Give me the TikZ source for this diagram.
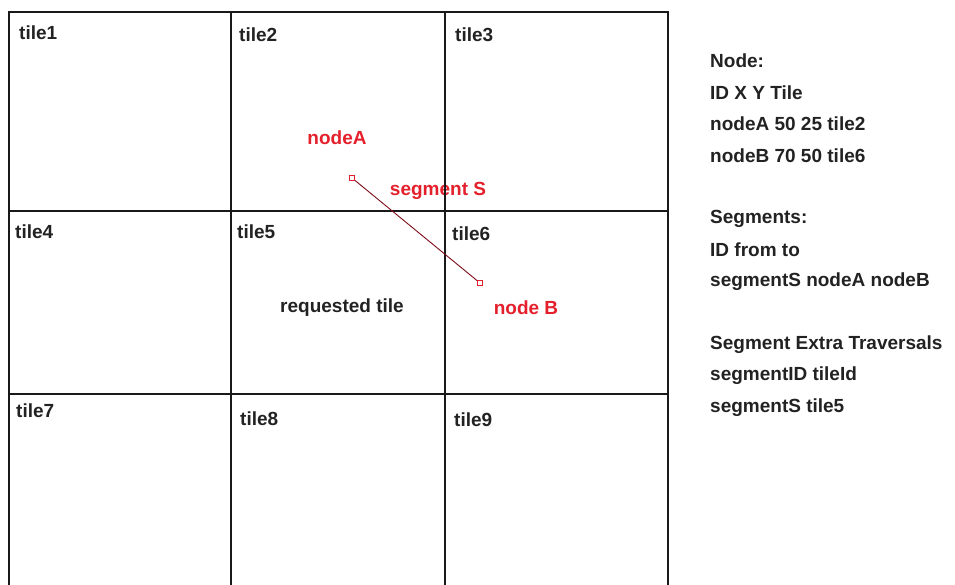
\documentclass[tikz,border=0pt]{standalone}
\usepackage{fontspec}
\setmainfont{Liberation Sans}
\definecolor{labelred}{RGB}{228,32,44}
\definecolor{segdark}{RGB}{125,12,24}
\definecolor{textgray}{RGB}{34,34,34}
\tikzset{
    tilelabel/.style={anchor=west, inner sep=0pt, text=textgray, font=\fontsize{19}{23}\selectfont\bfseries},
    redlabel/.style={inner sep=0pt, text=labelred, font=\fontsize{19}{23}\selectfont\bfseries},
    endmark/.style={draw=labelred, fill=white, line width=0.9pt, minimum size=5pt, inner sep=0pt},
    gridline/.style={line width=1.6pt, black!90}
}
\begin{document}
\begin{tikzpicture}[x=1pt, y=-1pt]
        \useasboundingbox (0,0) rectangle (955,585);
        % red labels under the grid lines
        \node[redlabel] (labelA) at (337,138) {nodeA};
        \node[redlabel] (labelS) at (438,191) {segment S};
        \node[redlabel] (labelB) at (526,308) {node B};
        % tiles
        \draw[gridline] (9,585) |- (668,12) -- (668,585);
        \foreach \x in {231,445}
            {
                \draw[gridline] (\x,12) -- (\x,585);
            }
        \foreach \y in {211,394}
            {
                \draw[gridline] (9,\y) -- (668,\y);
            }
        \foreach \n/\x/\y in {1/19/33, 2/239/35, 3/455/35, 4/15/232, 5/237/232, 6/452/234, 7/16/411, 8/240/419, 9/454/420}
            {
                \node[tilelabel] (tile\n) at (\x,\y) {tile\n};
            }
        \node[tilelabel, anchor=center] (request) at (342,308) {requested tile};
        % segment S
        \node[endmark] (nodeA) at (352,178) {};
        \node[endmark] (nodeB) at (480,283) {};
        \draw[segdark, line width=0.9pt] (nodeA) -- (nodeB);
        % tables on the right
        \foreach \k/\txt in {0/Node:, 1/ID X Y Tile, 2/nodeA 50 25 tile2, 3/nodeB 70 50 tile6, 5/Segments:, 6/ID from to, 7/segmentS nodeA nodeB, 9/Segment Extra Traversals, 10/segmentID tileId, 11/segmentS tile5}
            {
                \node[tilelabel] (row\k) at (710,{61+31.5*\k}) {\txt};
            }
    \end{tikzpicture}
\end{document}
